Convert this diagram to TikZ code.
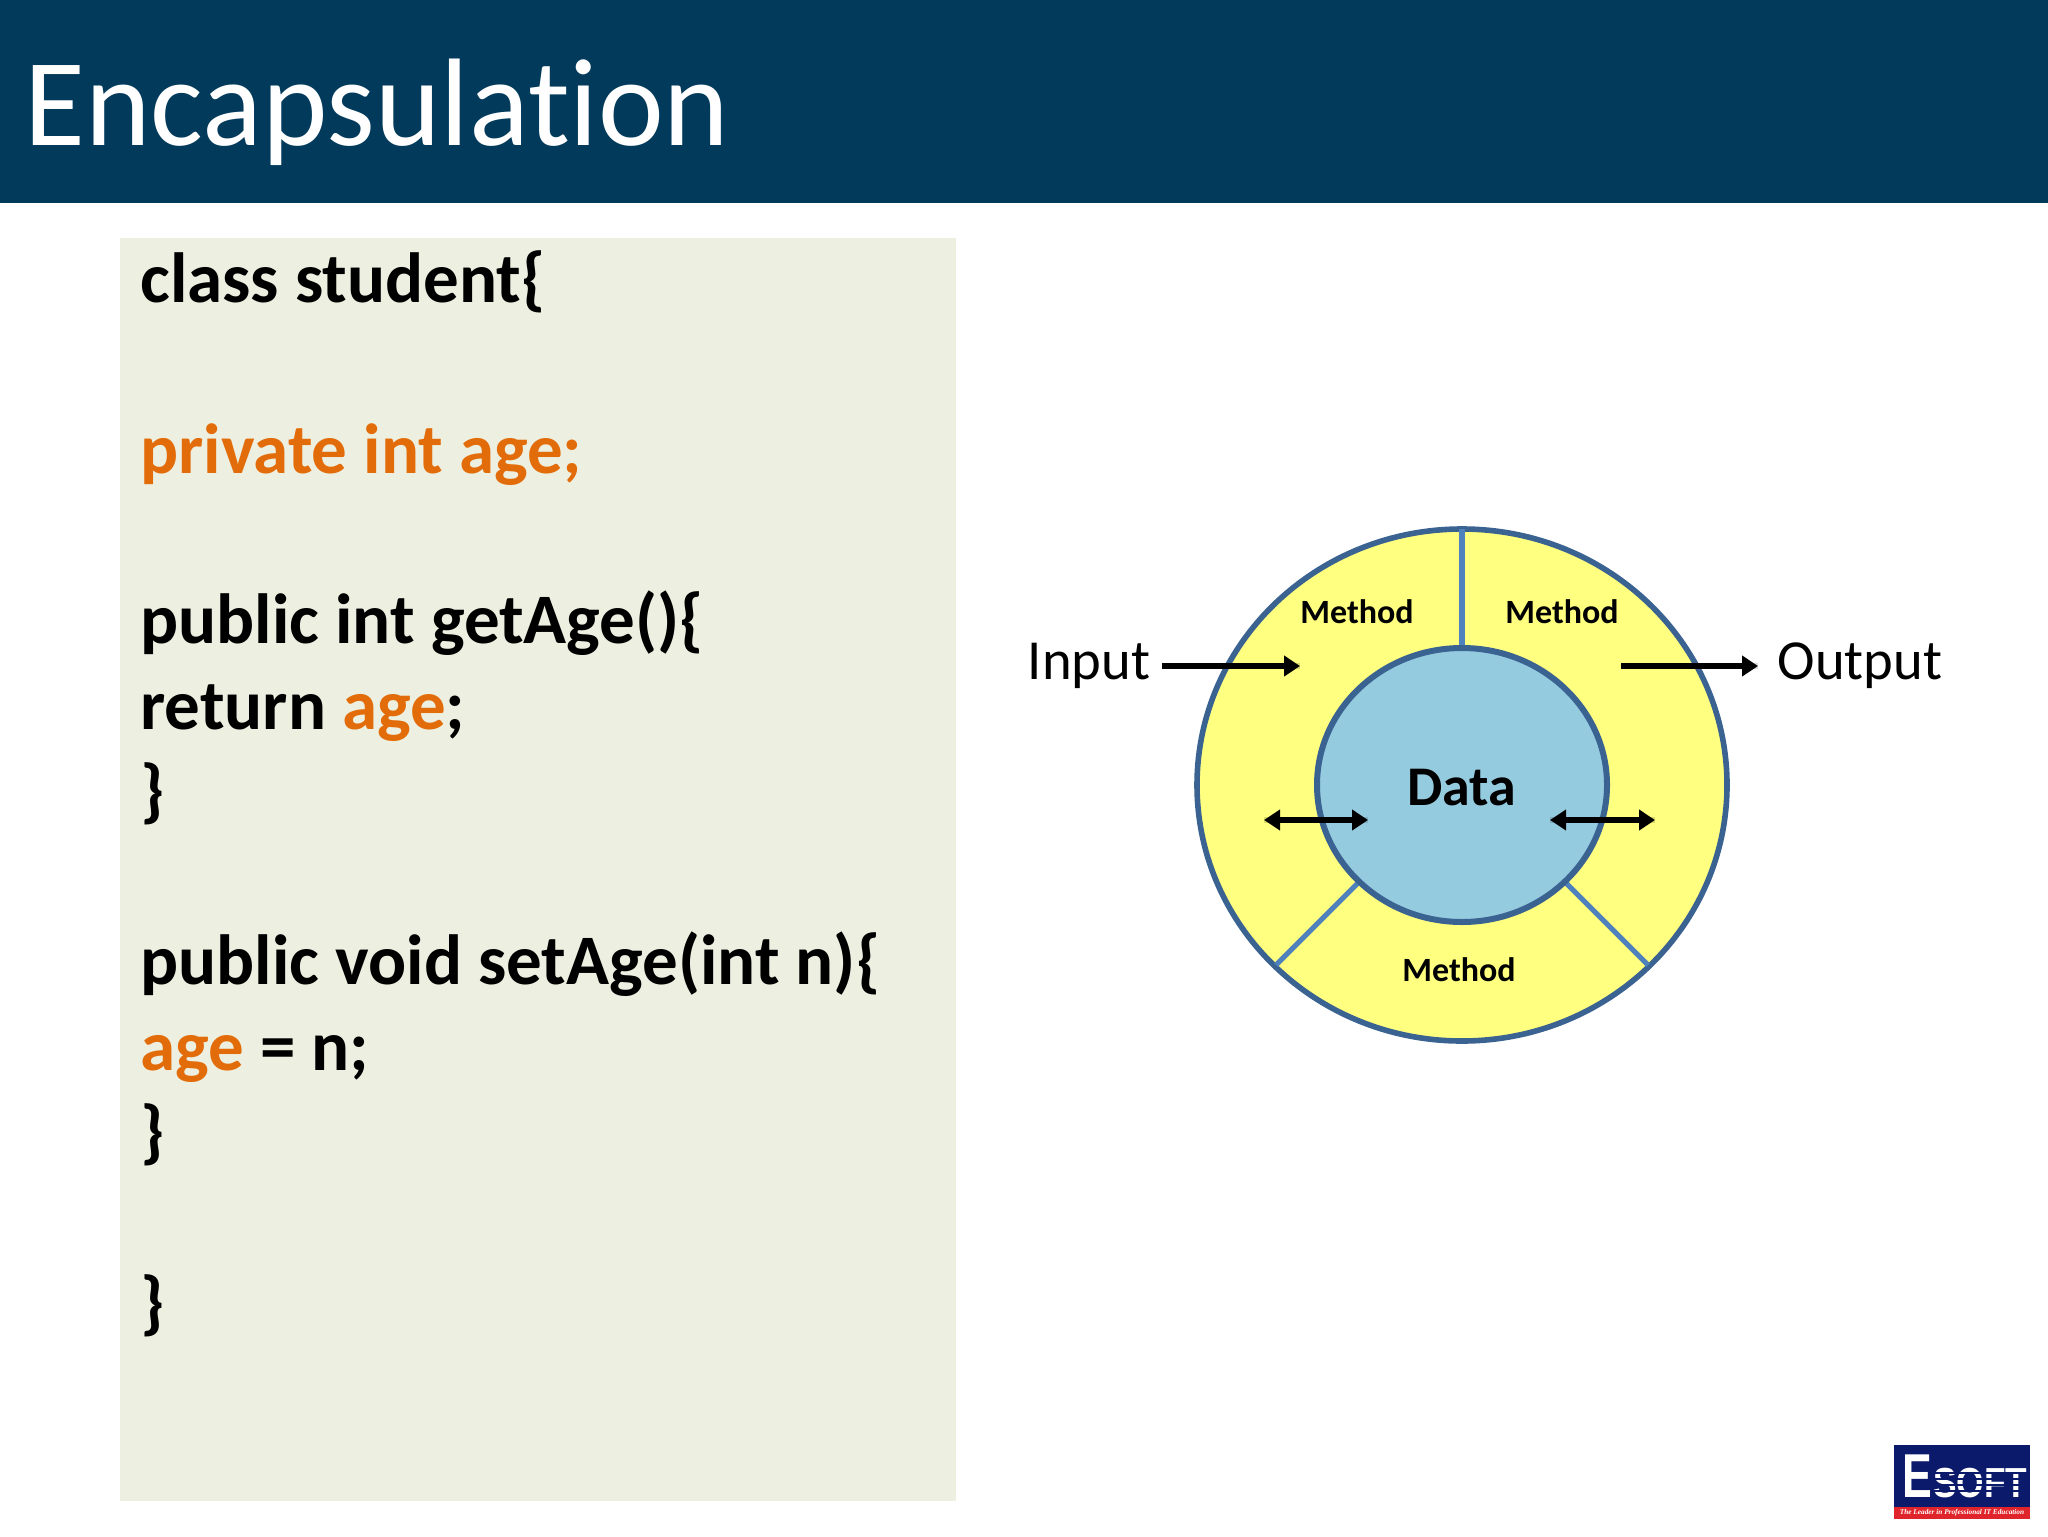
\documentclass[tikz,border=0pt]{standalone}
\usepackage{fontspec}
\setmainfont{Carlito}[Ligatures=CommonOff]
\newfontfamily\logofont{Liberation Sans}
\newfontfamily\logoserif{Liberation Serif}
\usetikzlibrary{arrows.meta}
\definecolor{headblue}{HTML}{023A5C}
\definecolor{panelgreen}{HTML}{EDF0E0}
\definecolor{codeorange}{HTML}{E36C0A}
\definecolor{ringyellow}{HTML}{FFFF80}
\definecolor{coreblue}{HTML}{95CBDF}
\definecolor{ringedge}{HTML}{3B6391}
\definecolor{divider}{HTML}{4F81BD}
\definecolor{logonavy}{HTML}{0B1A6B}
\definecolor{logored}{HTML}{E0242C}
\tikzset{
  code/.style={anchor=base west,inner sep=0pt,font=\fontsize{35.5}{40}\selectfont\bfseries,text=black},
  lbl/.style={anchor=base,inner sep=0pt,font=\fontsize{28.3}{32}\selectfont},
  meth/.style={anchor=base,inner sep=0pt,font=\fontsize{17}{20}\selectfont\bfseries},
  sep/.style={draw=divider,line width=2.6pt},
  flow/.style={draw=black,line width=2.7pt,-{Triangle[length=8pt,width=10pt]}},
  flowtwo/.style={draw=black,line width=2.7pt,{Triangle[length=8pt,width=10pt]}-{Triangle[length=8pt,width=10pt]}},
  shadowline/.style={draw=black,opacity=.14,line width=3.2pt,shift={(2,7)}},
}
\begin{document}
\begin{tikzpicture}[x=0.5pt,y=-0.5pt]
\useasboundingbox (0,0) rectangle (2048,1536);
\fill[white] (0,0) rectangle (2048,1536);
\fill[headblue] (0,0) rectangle (2048,203);
\node[anchor=base west,inner sep=0pt,text=white,font=\fontsize{62.3}{66}\selectfont] (title) at (24,145) {Encapsulation};
\fill[panelgreen] (120,238) rectangle (956,1501);
\node[code] (l1) at (140,302) {class student\{};
\node[code,text=codeorange] (l2) at (140,473) {private int age;};
\node[code] (l3) at (140,643) {public int getAge()\{};
\node[code] (l4) at (140,729) {return \textcolor{codeorange}{age};};
\node[code] (l5) at (140,814) {\}};
\node[code] (l6) at (140,984) {public void setAge(int n)\{};
\node[code] (l7) at (140,1070) {\textcolor{codeorange}{age} = n;};
\node[code] (l8) at (140,1155) {\}};
\node[code] (l9) at (140,1326) {\}};
% rings
\coordinate (c) at (1462,785);
\filldraw[fill=ringyellow,draw=ringedge,line width=2.8pt] (c) ellipse [x radius=265,y radius=256];
\coordinate (t1) at (1462,529); \coordinate (t2) at (1462,649);
\coordinate (bl1) at (1276,965); \coordinate (bl2) at (1358,883);
\coordinate (br1) at (1648,965); \coordinate (br2) at (1566,883);
\draw[sep] (t1) -- (t2);
\draw[sep] (bl1) -- (bl2);
\draw[sep] (br1) -- (br2);
\filldraw[fill=coreblue,draw=ringedge,line width=3pt] (c) ellipse [x radius=145,y radius=137];
\node[lbl,font=\fontsize{28}{32}\selectfont\bfseries] (data) at (1462,805) {Data};
\node[meth] (m1) at (1357,623) {Method};
\node[meth] (m2) at (1562,623) {Method};
\node[meth] (m3) at (1459,981) {Method};
\node[lbl] (input) at (1089,679) {Input};
\node[lbl] (output) at (1860,679) {Output};
\coordinate (ia) at (1162,666); \coordinate (ib) at (1300,666);
\coordinate (oa) at (1621,666); \coordinate (ob) at (1758,666);
\coordinate (la) at (1264,820); \coordinate (lb) at (1368,820);
\coordinate (ra) at (1550,820); \coordinate (rb) at (1655,820);
\draw[shadowline] (ia) -- (ib);
\draw[shadowline] (oa) -- (ob);
\draw[shadowline] (la) -- (lb);
\draw[shadowline] (ra) -- (rb);
\draw[flow] (ia) -- (ib);
\draw[flow] (oa) -- (ob);
\draw[flowtwo] (la) -- (lb);
\draw[flowtwo] (ra) -- (rb);
% logo
\fill[logonavy] (1894,1445) rectangle (2030,1507);
\fill[logored] (1894,1507) rectangle (2030,1519);
\node[anchor=base west,inner sep=0pt,text=white,xscale=.72,font=\logofont\fontsize{31}{31}\selectfont\bfseries] (logoe) at (1902,1497) {E};
\node[anchor=base west,inner sep=0pt,text=white,xscale=.84,font=\logofont\fontsize{21}{21}\selectfont\bfseries] (logos) at (1933,1497.5) {SOFT};
\foreach \yy in {1472,1478,1484,1490}
  \fill[logonavy] (1932,\yy) rectangle (2028,\yy+1.6);
\node[anchor=center,inner sep=0pt,text=white,font=\logoserif\fontsize{3.65}{5}\selectfont\itshape\bfseries] (logot) at (1962,1513) {The Leader in Professional IT Education};
\end{tikzpicture}
\end{document}
